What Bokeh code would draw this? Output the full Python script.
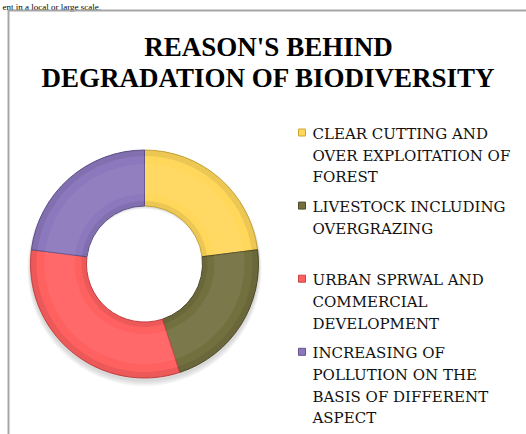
import numpy as np
from bokeh.plotting import figure
from bokeh.models import Range1d, ColumnDataSource
from bokeh.embed import file_html
from bokeh.resources import INLINE
from bokeh.core.properties import value

# ---------------- data ----------------
title_lines = ["REASON'S BEHIND", "DEGRADATION OF BIODIVERSITY"]
categories = [
    "CLEAR CUTTING AND OVER EXPLOITATION OF FOREST",
    "LIVESTOCK INCLUDING OVERGRAZING",
    "URBAN SPRWAL AND COMMERCIAL DEVELOPMENT",
    "INCREASING OF POLLUTION ON THE BASIS OF DIFFERENT ASPECT",
]
legend_lines = [
    ["CLEAR CUTTING AND", "OVER EXPLOITATION OF", "FOREST"],
    ["LIVESTOCK INCLUDING", "OVERGRAZING", ""],
    ["URBAN SPRWAL AND", "COMMERCIAL", "DEVELOPMENT"],
    ["INCREASING OF", "POLLUTION ON THE", "BASIS OF DIFFERENT", "ASPECT"],
]
shares = [23, 22, 32, 23]
colors = ["#FFD75A", "#737040", "#FF6060", "#8B78BD"]
edge_colors = ["#C9A83A", "#4E4C28", "#C84444", "#62538F"]
top_cut_text = "ent in a local or large scale."

# ---------------- layout ----------------
W, H = 526, 434


def Y(ypix):
    return H - ypix


p = figure(width=W, height=H, x_range=Range1d(0, W), y_range=Range1d(0, H),
           output_backend="svg", toolbar_location=None,
           x_axis_location=None, y_axis_location=None, min_border=0)
p.grid.visible = False
p.outline_line_color = None
p.background_fill_color = "white"
p.border_fill_color = "white"

# line of text from the page above the chart
p.text(x=[2], y=[Y(6)], text=[top_cut_text], text_font=value("Liberation Serif"),
       text_font_size=value("9px"), text_color="black", text_baseline="alphabetic",
       text_align="left")

# frame of the chart
p.line(x=[8, 8, 540], y=[Y(450), Y(10), Y(10)], line_color="#A6A6A6", line_width=2)

# title
p.text(x=[268, 268], y=[Y(46), Y(77.5)], text=title_lines,
       text_font=value("Liberation Serif"), text_font_size=value("27px"),
       text_font_style="bold", text_color="black", text_align="center",
       text_baseline="alphabetic")

# donut
cx, cy = 144, Y(263.5)
r_out, r_in = 114, 58

# soft shadow
for k, a in enumerate([0.05, 0.05, 0.05]):
    p.annulus(x=cx, y=cy - 3 - k, inner_radius=r_in + 2, outer_radius=r_out + 1 + k,
              fill_color="black", fill_alpha=a, line_color=None)

vals = np.array(shares, dtype=float)
frac = vals / vals.sum()
cum = np.concatenate([[0.0], np.cumsum(frac)])
start = np.pi / 2 - 2 * np.pi * cum[:-1]
end = np.pi / 2 - 2 * np.pi * cum[1:]

src = ColumnDataSource(dict(start=start, end=end, color=colors, edge=edge_colors,
                            cat=categories))
p.annular_wedge(x=cx, y=cy, inner_radius=r_in, outer_radius=r_out,
                start_angle="start", end_angle="end", direction="clock",
                fill_color="color", line_color="edge", line_width=1, source=src)

# bevel shading
p.annular_wedge(x=cx, y=cy, inner_radius=r_out - 6, outer_radius=r_out,
                start_angle="start", end_angle="end", direction="clock",
                fill_color="black", fill_alpha=0.07, line_color=None, source=src)
p.annular_wedge(x=cx, y=cy, inner_radius=r_in, outer_radius=r_in + 5,
                start_angle="start", end_angle="end", direction="clock",
                fill_color="black", fill_alpha=0.07, line_color=None, source=src)
p.annular_wedge(x=cx, y=cy, inner_radius=r_in + 12, outer_radius=r_out - 14,
                start_angle="start", end_angle="end", direction="clock",
                fill_color="white", fill_alpha=0.06, line_color=None, source=src)

# legend
line_h = 21.7
item_gap = 8.0
lx_text = 312
mx = 301.5
y0 = 133.5
tx, ty, tt = [], [], []
mxs, mys = [], []
ycur = y0
for lines in legend_lines:
    mxs.append(mx)
    mys.append(Y(ycur - 1.5))
    for j, ln in enumerate(lines):
        if ln:
            tx.append(lx_text)
            ty.append(Y(ycur + j * line_h))
            tt.append(ln)
    ycur += max(len(lines), 3) * line_h + item_gap

p.rect(x=mxs, y=mys, width=7, height=7, fill_color=colors, line_color=edge_colors,
       line_width=1)
p.text(x=tx, y=ty, text=tt, text_font=value("DejaVu Serif"),
       text_font_size=value("15px"), text_color="#111111", text_align="left",
       text_baseline="alphabetic")

open("out.html", "w").write(file_html(p, INLINE))
